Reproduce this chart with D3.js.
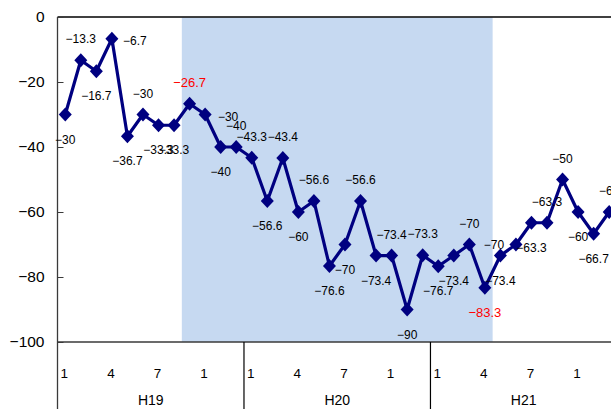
<!DOCTYPE html>
<html><head><meta charset="utf-8">
<script src="https://cdn.jsdelivr.net/npm/d3@7"></script>
<style>
  body { margin: 0; background: #fff; }
  text { font-family: "Liberation Sans", Arial, sans-serif; }
</style>
</head><body>
<svg id="chart" width="611" height="409"></svg>
<script>
// Fiscal-year groups and the quarter-start month labels shown under each group
const years = ["H19", "H20", "H21"];
const quarterLabels = ["1", "4", "7", "1"];
const monthsPerYear = 12;

// Monthly index values (DI)
const values = [
  -30, -13.3, -16.7, -6.7, -36.7, -30, -33.3, -33.3,
  -26.7, -30, -40, -40, -43.3, -56.6, -43.4, -60, -56.6, -76.6, -70, -56.6,
  -73.4, -73.4, -90, -73.3, -76.7, -73.4, -70, -83.3,
  -73.4, -70, -63.3, -63.3, -50, -60, -66.7, -60
];

// Peak and trough of the contraction phase (shaded band runs between them)
const peakIndex = 8;
const troughIndex = 27;

const yTicks = [0, -20, -40, -60, -80, -100];

// Where each value label sits relative to its marker
const labelPlacement = [
  "below", "above", "below", "right", "below", "above", "below", "below",
  "above", "right", "below", "above", "above", "below", "above", "below",
  "above", "below", "below", "above", "below", "above", "below", "above",
  "below", "below", "above", "below", "below", "left", "below", "above",
  "above", "below", "below", "above"
];

(function draw() {
  const svg = d3.select("#chart");
  const plotLeft = 57.5, plotTop = 17, plotBottom = 342, width = 611, height = 409;
  const step = 15.54;
  const n = values.length;
  const axisColor = "#3a3a3a";

  const x = d3.scaleBand()
    .domain(d3.range(n))
    .range([plotLeft, plotLeft + n * step])
    .padding(0);
  const cx = i => x(i) + x.bandwidth() / 2;

  const y = d3.scaleLinear().domain([-100, 0]).range([plotBottom, plotTop]);

  const fmt = v => String(v).replace("-", "\u2212");

  // Contraction phase band
  svg.append("rect")
    .attr("x", x(peakIndex))
    .attr("y", y(0) + 0.5)
    .attr("width", x(troughIndex) + x.bandwidth() - x(peakIndex))
    .attr("height", y(-100) - y(0) - 0.5)
    .attr("fill", "#c6d9f1");

  // Top border of the plot area
  svg.append("line")
    .attr("x1", plotLeft).attr("x2", width)
    .attr("y1", y(0)).attr("y2", y(0))
    .attr("stroke", "#000").attr("stroke-width", 1.5);

  // Y axis, ticks pointing into the plot
  const yAxis = svg.append("g")
    .attr("transform", `translate(${plotLeft},0)`)
    .call(d3.axisLeft(y).tickValues(yTicks).tickSize(-6).tickPadding(13).tickFormat(fmt));
  yAxis.select(".domain").remove();
  yAxis.selectAll(".tick line").attr("stroke", axisColor);
  yAxis.selectAll(".tick text")
    .attr("x", -13)
    .style("font-size", "15.5px")
    .attr("fill", "#000");

  // Left axis line running down through the category area
  svg.append("line")
    .attr("x1", plotLeft).attr("x2", plotLeft)
    .attr("y1", plotTop).attr("y2", height)
    .attr("stroke", axisColor).attr("stroke-width", 1.3);

  // X axis baseline
  svg.append("line")
    .attr("x1", plotLeft).attr("x2", width)
    .attr("y1", plotBottom).attr("y2", plotBottom)
    .attr("stroke", axisColor).attr("stroke-width", 1.3);

  // Year groups: separators, quarter month labels, year labels
  years.forEach((yr, g) => {
    const start = g * monthsPerYear;
    if (g > 0) {
      const sx = x(start);
      svg.append("line")
        .attr("x1", sx).attr("x2", sx)
        .attr("y1", plotBottom).attr("y2", height)
        .attr("stroke", "#000").attr("stroke-width", 1.2);
    }
    quarterLabels.forEach((ql, q) => {
      svg.append("text")
        .attr("x", cx(start + q * 3) - 1)
        .attr("y", 373)
        .attr("text-anchor", "middle")
        .attr("dominant-baseline", "central")
        .style("font-size", "13.5px")
        .text(ql);
    });
    const mid = x(start) + monthsPerYear * step / 2;
    svg.append("text")
      .attr("x", mid)
      .attr("y", 400)
      .attr("text-anchor", "middle")
      .attr("dominant-baseline", "central")
      .style("font-size", "14px")
      .text(yr);
  });

  // Series line
  const line = d3.line().x((d, i) => cx(i)).y(d => y(d));
  svg.append("path")
    .datum(values)
    .attr("d", line)
    .attr("fill", "none")
    .attr("stroke", "#000080")
    .attr("stroke-width", 3.2)
    .attr("stroke-linejoin", "round");

  // Diamond markers
  const hw = 6.5, hh = 7;
  svg.append("g").selectAll("path")
    .data(values)
    .join("path")
    .attr("d", (d, i) => {
      const px = cx(i), py = y(d);
      return `M${px},${py - hh}L${px + hw},${py}L${px},${py + hh}L${px - hw},${py}Z`;
    })
    .attr("fill", "#000080");

  // Value labels
  const offsets = {
    above: [0, -21],
    below: [0, 25],
    right: [23, 2],
    left: [-22, 0]
  };
  const isTurning = i => i === peakIndex || i === troughIndex;
  svg.append("g").selectAll("text")
    .data(values)
    .join("text")
    .attr("x", (d, i) => cx(i) + offsets[labelPlacement[i]][0])
    .attr("y", (d, i) => y(d) + offsets[labelPlacement[i]][1])
    .attr("text-anchor", "middle")
    .attr("dominant-baseline", "central")
    .style("font-size", (d, i) => isTurning(i) ? "13px" : "12px")
    .attr("fill", (d, i) => isTurning(i) ? "#ff0000" : "#000")
    .text(fmt);
})();
</script>
</body></html>
